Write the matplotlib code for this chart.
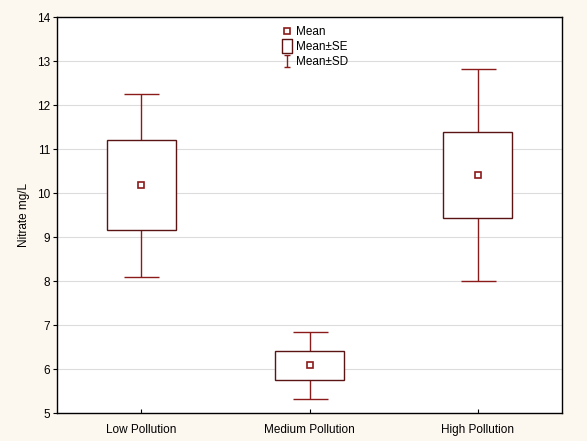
import matplotlib
matplotlib.use("Agg")
import matplotlib.pyplot as plt
import numpy as np
from matplotlib.lines import Line2D
from matplotlib.path import Path

# data
groups = ["Low Pollution", "Medium Pollution", "High Pollution"]
means = [10.18, 6.08, 10.41]
se = [1.03, 0.33, 0.98]
sd = [2.08, 0.76, 2.40]

red = "#8b1a1a"
dark = "#5a1414"
bg = "#fdf8ef"

plt.rcParams["font.family"] = ["Liberation Sans", "DejaVu Sans"]
plt.rcParams["font.size"] = 8.5

fig = plt.figure(figsize=(5.87, 4.41), dpi=100, facecolor=bg)
ax = fig.add_axes([57 / 587, 1 - 413 / 441, 505 / 587, 396 / 441])

x = np.arange(len(groups))
m = np.array(means)
s = np.array(se)
d = np.array(sd)

ax.errorbar(x, m, yerr=d, fmt="none", ecolor=red, elinewidth=1,
            capsize=12.6, capthick=1, zorder=2)
ax.bar(x, 2 * s, bottom=m - s, width=0.41, color="white",
       edgecolor=dark, linewidth=1, zorder=3)
ax.plot(x, m, ls="none", marker="s", ms=4.5, mfc="white", mec=red,
        mew=1.2, zorder=4)

ax.set_xlim(-0.5, 2.5)
ax.set_ylim(5, 14)
ax.set_yticks(range(5, 15))
ax.set_xticks(x)
ax.set_xticklabels(groups)
ax.tick_params(axis="x", direction="in", length=3, pad=8)
ax.tick_params(axis="y", direction="out", length=3, pad=2)
ax.yaxis.grid(True, color="#dcdcdc", linewidth=0.8, zorder=0)
ax.set_axisbelow(True)
ax.set_ylabel("Nitrate mg/L", labelpad=5)
for sp in ax.spines.values():
    sp.set_linewidth(1)

sd_marker = Path([(-0.5, 1), (0.5, 1), (0, 1), (0, -1), (-0.5, -1), (0.5, -1)],
                 [Path.MOVETO, Path.LINETO, Path.MOVETO, Path.LINETO,
                  Path.MOVETO, Path.LINETO])
se_marker = Path([(-0.4, -0.5), (0.4, -0.5), (0.4, 0.5), (-0.4, 0.5), (-0.4, -0.5)],
                 [Path.MOVETO, Path.LINETO, Path.LINETO, Path.LINETO, Path.CLOSEPOLY])
handles = [
    Line2D([], [], ls="none", marker="s", ms=4.5, mfc="white", mec=red, mew=1.2),
    Line2D([], [], ls="none", marker=se_marker, ms=9.5, mfc="white", mec=dark, mew=1),
    Line2D([], [], ls="none", marker=sd_marker, ms=8, mec=red, mew=1),
]
ax.legend(handles, ["Mean", "Mean\u00b1SE", "Mean\u00b1SD"], loc="upper center",
          bbox_to_anchor=(0.51, 1.0), frameon=False, handlelength=1.0,
          handletextpad=0.2, labelspacing=0.25, borderpad=0.3)

fig.savefig("out.png", dpi=100, facecolor=bg)
